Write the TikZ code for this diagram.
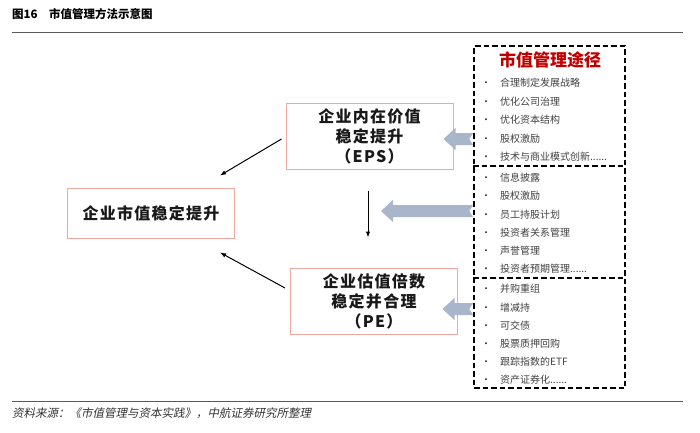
\documentclass[tikz,border=0pt]{standalone}
\usepackage{fontspec}
\setmainfont{Noto Sans CJK SC}[AutoFakeSlant=0.2]
\newfontfamily\boxfont{Noto Sans CJK SC}[LetterSpace=8]
\usetikzlibrary{calc,arrows.meta,positioning}

\definecolor{boxred}{RGB}{240,168,158}
\definecolor{waysred}{RGB}{192,0,0}
\definecolor{pushblue}{RGB}{168,181,203}
\definecolor{itemgray}{RGB}{64,64,64}
\definecolor{rulegray}{RGB}{90,90,90}

\newcommand{\moredots}{......}

% notched block arrow from tip (#1) back to tail (#2)
\newcommand{\pusharrow}[2]{%
  \fill[pushblue] (#1) -- ++(12,-11) -- ++(0,5) -- ($(#2)+(0,-6)$) -- ($(#2)+(-4,0)$)
    -- ($(#2)+(0,6)$) -- ($(#1)+(12,6)$) -- ($(#1)+(12,11)$) -- cycle;}

\begin{document}
\begin{tikzpicture}[
    x=1pt, y=-1pt,
    valbox/.style={rectangle, draw=boxred, line width=1pt, fill=white, align=center,
                   font=\boxfont\fontsize{16}{20}\selectfont\bfseries, text=black!90,
                   minimum width=167pt, minimum height=66pt, inner sep=0pt},
    waydash/.style={line width=1.6pt, dash pattern=on 5.5pt off 3pt},
    wayitem/.style={anchor=west, inner sep=0pt, font=\fontsize{10}{12}\selectfont, text=itemgray},
    arrow/.style={-{Latex[length=6pt, width=4.5pt]}, line width=1pt}
]
\useasboundingbox (0,0) rectangle (700,432);

% ================= HEADER & FOOTER =================
\node[anchor=west, inner sep=0pt, font=\fontsize{11.5}{13}\selectfont\bfseries] (Title) at (12,14) {图16\quad 市值管理方法示意图};
\draw[rulegray, line width=1pt] (12,32) -- (683,32);
\draw[rulegray, line width=1pt] (12,401.5) -- (683,401.5);
\node[anchor=west, inner sep=0pt, font=\fontsize{11.5}{13}\selectfont\slshape, text=black!80] (Source) at (12,413) {资料来源：《市值管理与资本实践》，中航证券研究所整理};

% ================= VALUE BOXES =================
\node[valbox, minimum height=50pt] (Main) at (151,213) {企业市值稳定提升};
\node[valbox] (EPS) at (369.5,136) {企业内在价值\\稳定提升\\（EPS）};
\node[valbox] (PE) at (374,301) {企业估值倍数\\稳定并合理\\（PE）};

% ================= WAYS PANEL =================
\node[draw, waydash, minimum width=151pt, minimum height=342pt, inner sep=0pt] (Ways) at (549.5,217) {};
\coordinate (CutA) at (0,166);
\coordinate (CutB) at (0,278);
\draw[waydash] (Ways.west |- CutA) -- (Ways.east |- CutA);
\draw[waydash] (Ways.west |- CutB) -- (Ways.east |- CutB);

\node[font=\fontsize{17}{20}\selectfont\bfseries, text=waysred] (WaysTitle) at (550,60) {市值管理途径};

\foreach \txt [count=\i from 0] in {合理制定发展战略,优化公司治理,优化资本结构,股权激励,技术与商业模式创新\moredots}
  \node[wayitem] (P\i) at (478, 83+18.5*\i) {\makebox[16pt][c]{\textbullet}\hspace{6pt}\txt};
\foreach \txt [count=\i from 0] in {信息披露,股权激励,员工持股计划,投资者关系管理,声誉管理,投资者预期管理\moredots}
  \node[wayitem] (Q\i) at (478, 178+18.2*\i) {\makebox[16pt][c]{\textbullet}\hspace{6pt}\txt};
\foreach \txt [count=\i from 0] in {并购重组,增减持,可交债,股票质押回购,跟踪指数的ETF,资产证券化\moredots}
  \node[wayitem] (R\i) at (478, 289+18.2*\i) {\makebox[16pt][c]{\textbullet}\hspace{6pt}\txt};

% ================= BLOCK ARROWS =================
\coordinate (TipA) at ($(EPS.east)+(-10,3)$);
\coordinate (TipB) at (381,211);
\coordinate (TipC) at ($(PE.east)+(-15.5,8)$);
\pusharrow{TipA}{Ways.west |- TipA}
\pusharrow{TipB}{Ways.west |- TipB}
\pusharrow{TipC}{Ways.west |- TipC}

% ================= DRAWING ARROWS =================
\draw[arrow] ($(EPS.west)+(-4,3)$) -- ($(Main.north east)+(-15,-12)$);
\draw[arrow] ($(PE.west)+(-5,-13)$) -- ($(Main.south east)+(-15,14)$);
\draw[arrow] ($(EPS.south)+(-1.5,21)$) -- ($(PE.north)+(-6,-30)$);

\end{tikzpicture}
\end{document}
